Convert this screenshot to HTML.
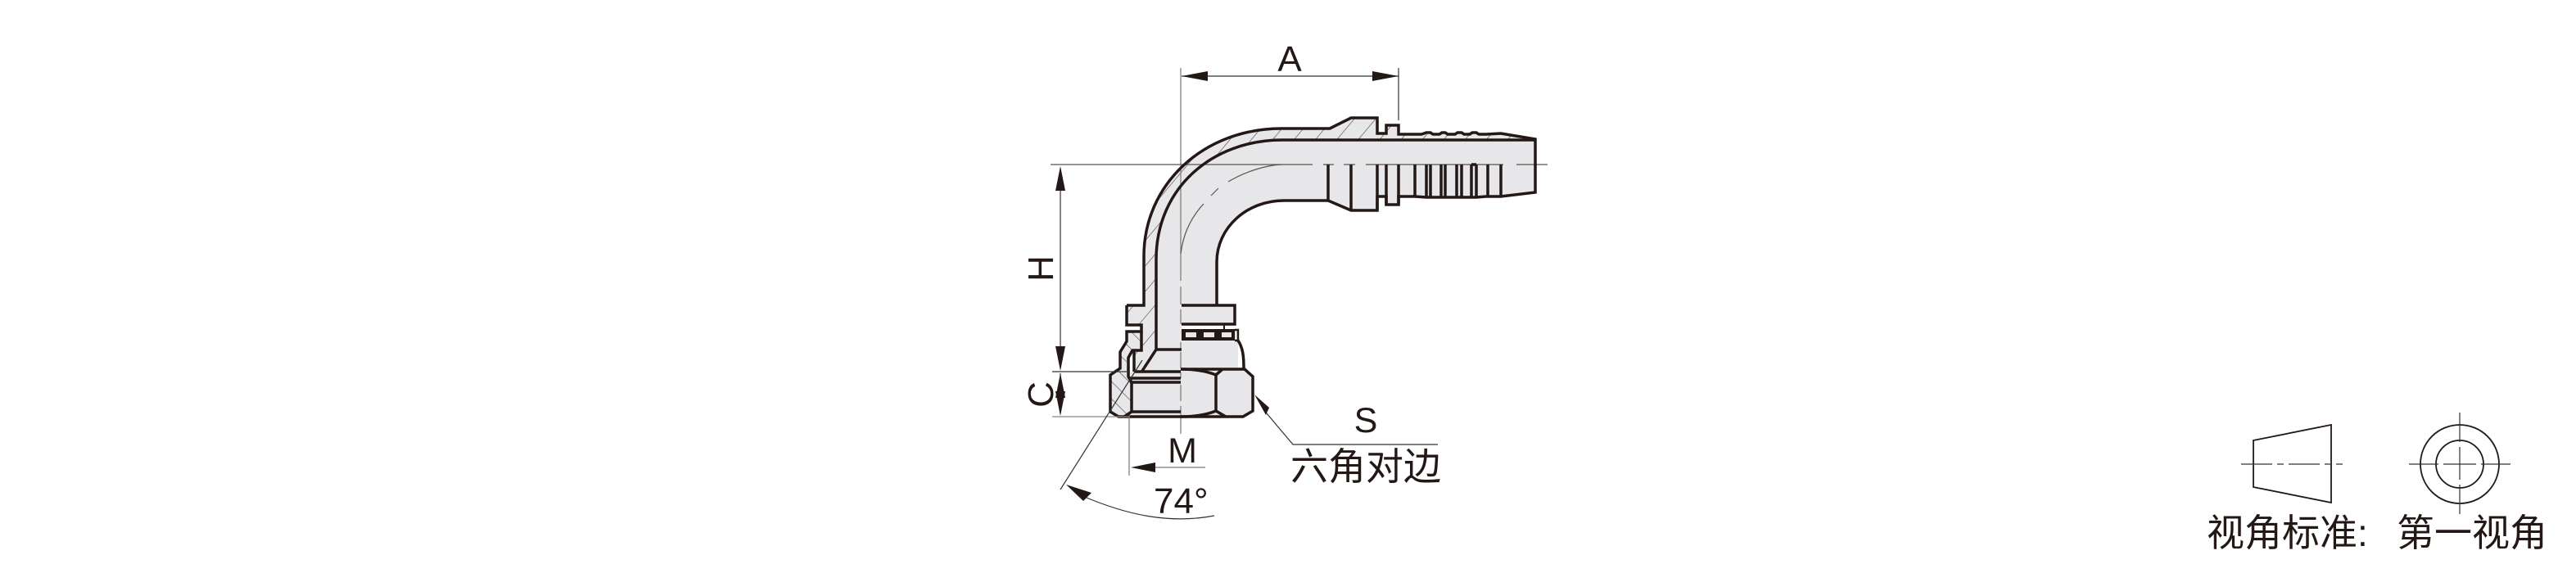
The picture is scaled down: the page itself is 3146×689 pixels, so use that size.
<!DOCTYPE html>
<html><head><meta charset="utf-8"><style>
html,body{margin:0;padding:0;background:#fff;width:3146px;height:689px;overflow:hidden}
svg{display:block}
text{font-family:"Liberation Sans","Noto Sans CJK SC",sans-serif;fill:#231815}
</style></head><body>
<svg width="3146" height="689" viewBox="0 0 3146 689" xmlns="http://www.w3.org/2000/svg">
<defs>
<pattern id="h1" patternUnits="userSpaceOnUse" width="20" height="20" patternTransform="rotate(40)"><rect width="20" height="20" fill="#e7e7e9"/><line x1="0" y1="0" x2="0" y2="20" stroke="#444" stroke-width="1.2"/></pattern>
<pattern id="h2" patternUnits="userSpaceOnUse" width="15" height="15" patternTransform="rotate(-45)"><rect width="15" height="15" fill="#e7e7e9"/><line x1="0" y1="0" x2="0" y2="15" stroke="#444" stroke-width="1.2"/></pattern>
</defs>
<!-- body fill -->
<path d="M1411 317C1411 230 1480 171 1566 171H1875V235L1833 240H1708V250H1693V240H1682V257H1650L1622 245H1568C1523 245 1486 278 1486 320V373H1508V396H1443V451H1520L1530 460V502L1518 509H1366L1356 503V458L1385 454V428H1411Z" fill="#e7e7e9"/>
<rect x="1443" y="403" width="69" height="48" fill="#e7e7e9"/>
<!-- hatched wall -->
<path d="M1397 373V313C1397 225 1470 157 1565 157H1624L1650 144H1682V163H1693V153H1708V164H1833L1875 170V171H1566C1480 171 1412 230 1412 317V427L1395 453H1385V428H1394V397H1376V373Z" fill="url(#h1)"/>
<path d="M1376 405H1394V428H1383L1378 437V460L1382 467V503L1373 509H1366L1356 503V458L1368 450V430L1376 417Z" fill="url(#h2)"/>
<!-- center lines under outline -->
<g fill="none" stroke="#555" stroke-width="1.2">
<path d="M1283 201H1603M1616 201H1629M1641 201H1655M1668 201H1836M1852 201H1890"/>
<path d="M1442 83V343" stroke="#777"/>
<path d="M1442 350V372M1442 378V396M1442 418V425M1442 430V450M1442 455V462M1442 470V490M1442 496V530" stroke="#777"/>
<path d="M1442 310C1445 285 1455 265 1470 249M1479 239L1488 230M1500 222C1520 210 1545 202 1565 201"/>
</g>
<!-- outline -->
<g fill="none" stroke="#231815" stroke-width="3.5" stroke-linejoin="miter">
<path d="M1376 373H1397V313C1397 225 1470 157 1565 157H1624L1650 144H1682V163H1693V153H1708V164H1736L1742 162H1747L1750 164H1758L1761 162H1765L1768 164H1777L1780 162H1785L1788 164H1795L1798 162H1803L1806 164H1815L1833 163L1875 170V235L1833 240H1815L1803 241H1797L1785 241H1779L1765 241H1760L1747 241H1742L1728 240H1708V250H1693V240H1682V257H1650L1622 245H1568C1523 245 1486 278 1486 320V373"/>
<path d="M1412 373V317C1412 230 1480 171 1566 171H1875"/>
<path d="M1376 373V397H1394V405H1376V417L1368 430V450L1356 458V503L1366 509H1518L1530 502V460L1520 451H1442"/>
<path d="M1443 373H1508V396H1443"/>
<path d="M1512 416C1518 425 1519 435 1519 451"/>
<path d="M1412 373V427L1395 453M1411 427H1443M1385 454H1442"/>
<path d="M1394 405V428H1383L1378 437V460L1382 467V503L1373 509"/>
<path d="M1385 428V454"/>
<path d="M1378 462H1442M1382 467H1442M1382 503H1442"/>
<path d="M1442 451C1460 451 1475 454 1485 458V502C1475 506 1460 509 1442 509"/>
<path d="M1485 458L1493 451M1485 502L1497 509"/>
<path d="M1622 201V245M1650 201V257M1682 201V257M1693 201V250M1708 201V250M1728 201V240M1742 201V241M1747 201V241M1760 201V241M1765 201V241M1779 201V241M1785 201V241M1797 201V241M1803 201V241M1817 201V240M1833 201V240"/>
<path d="M1797 201H1803"/>
</g>
<!-- retaining collar -->
<path d="M1495 396V403" stroke="#231815" stroke-width="2"/>
<rect x="1443" y="402" width="65" height="14" fill="#231815"/>
<path d="M1508 403H1512V416H1508" fill="#e7e7e9" stroke="#231815" stroke-width="2.4"/>
<rect x="1448" y="406" width="13" height="6" fill="#e7e7e9"/>
<rect x="1470" y="406" width="13" height="6" fill="#e7e7e9"/>
<rect x="1492" y="406" width="12" height="6" fill="#e7e7e9"/>
<!-- dimension lines -->
<g fill="none" stroke="#333" stroke-width="1.2">
<path d="M1443 93H1708"/>
<path d="M1708 83V147M1285 454H1380"/>
<path d="M1285 509H1380" stroke="#888"/>
<path d="M1295 220V425M1295 456V505"/>
<path d="M1379 509V581" stroke="#777"/>
<path d="M1411 571H1472" stroke="#777"/>
<path d="M1395 440L1295 598"/>
<path d="M1327 608C1380 630 1430 640 1483 630"/>
<path d="M1547 505L1579 543H1756"/>
</g>
<!-- arrows -->
<g fill="#231815">
<path d="M1443 93L1475 87V99Z"/><path d="M1708 93L1676 87V99Z"/>
<path d="M1295 203L1289 233H1301Z"/>
<path d="M1295 453L1289 423H1301Z"/>
<path d="M1295 456L1289 486H1301Z"/>
<path d="M1295 508L1289 478H1301Z"/>
<path d="M1381 571L1411 565V577Z"/>
<path d="M1302 592L1333 602L1323 612Z"/>
<path d="M1532 482L1550 498L1546 507Z"/>
</g>
<!-- labels -->
<text x="1575" y="87" font-size="44" text-anchor="middle">A</text>
<text transform="translate(1286 328) rotate(-90)" font-size="44" text-anchor="middle">H</text>
<text transform="translate(1286 482) rotate(-90)" font-size="44" text-anchor="middle">C</text>
<text x="1444" y="565" font-size="43" text-anchor="middle">M</text>
<text x="1668" y="528" font-size="43" text-anchor="middle">S</text>
<text x="1409" y="627" font-size="44">74°</text>
<text x="1576" y="586" font-size="46">六角对边</text>
<!-- projection symbol -->
<g fill="none" stroke="#231815" stroke-width="1.8">
<path d="M2752 538L2847 519V614L2752 595Z"/>
<circle cx="3004" cy="567" r="48"/>
<circle cx="3004" cy="567" r="29"/>
</g>
<g fill="none" stroke="#333" stroke-width="1.2">
<path d="M2737 567H2861" stroke-dasharray="38 6 8 6"/>
<path d="M2942 567H3066" stroke-dasharray="36 6 40 6"/>
<path d="M3004 504V628" stroke-dasharray="36 6 40 6"/>
</g>
<text x="2695" y="667" font-size="46">视角标准:</text>
<text x="2927" y="667" font-size="46">第一视角</text>
</svg>
</body></html>
